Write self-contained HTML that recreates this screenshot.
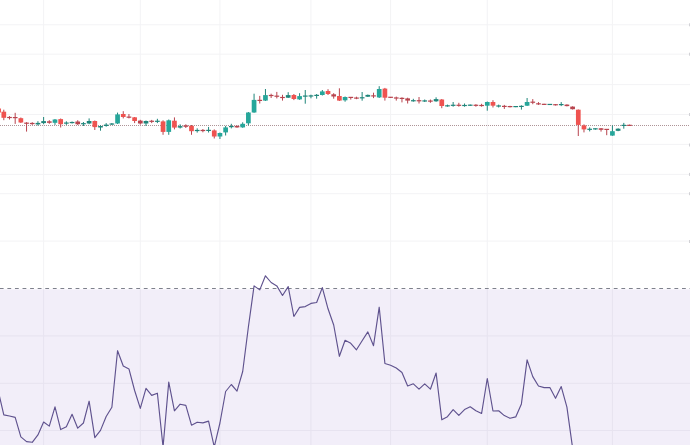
<!DOCTYPE html>
<html><head><meta charset="utf-8"><title>Chart</title>
<style>
html,body{margin:0;padding:0;background:#fff;width:690px;height:445px;overflow:hidden;font-family:"Liberation Sans",sans-serif;}
svg{display:block;}
</style></head><body>
<svg width="690" height="445" viewBox="0 0 690 445">
<rect x="0" y="0" width="690" height="445" fill="#ffffff"/>
<path d="M0 24.8H690 M0 54.2H690 M0 84.6H690 M0 114.5H690 M0 144.4H690 M0 174.4H690 M0 193.7H690 M0 241.1H690 M0 335.9H690 M0 383.3H690 M0 430.5H690 M43.62 0V445 M140.31 0V445 M219.94 0V445 M310.95 0V445 M390.58 0V445 M487.28 0V445 M612.42 0V445" stroke="#f3f3f5" stroke-width="1" fill="none"/>
<rect x="0" y="289.3" width="690" height="155.7" fill="rgba(126,87,194,0.1)"/>
<path d="M0 288.5H690" stroke="#7e818c" stroke-width="1" stroke-dasharray="3.8 3.78" stroke-dashoffset="0.2" fill="none"/>
<path d="M0 125.5H690" stroke="#ae9497" stroke-width="1" stroke-dasharray="1 1" fill="none"/>
<path d="M37.93 121.2V125.5 M43.62 117.0V124.2 M54.99 119.0V124.9 M66.37 121.3V124.9 M72.06 121.5V123.5 M83.43 122.0V126.0 M89.12 118.4V124.2 M100.50 125.3V130.7 M106.18 123.1V126.7 M111.87 123.0V125.0 M117.56 112.6V124.0 M146.00 120.5V126.0 M157.38 118.8V123.1 M168.75 119.5V134.8 M180.13 124.3V128.5 M197.19 128.3V132.6 M208.57 126.9V132.5 M219.94 132.5V139.0 M225.63 125.9V135.5 M231.32 123.8V128.4 M242.70 122.3V127.8 M248.38 112.0V125.3 M254.07 93.7V112.8 M265.45 89.0V101.0 M288.20 92.2V98.0 M299.58 93.2V99.8 M305.26 90.0V103.7 M310.95 94.7V98.3 M316.64 94.0V98.7 M322.33 90.0V95.5 M345.08 96.5V101.7 M362.14 92.0V100.7 M367.83 94.5V97.0 M379.21 86.2V98.0 M413.34 98.8V101.7 M424.71 99.5V102.0 M436.09 97.3V101.8 M447.46 104.6V106.7 M453.15 102.0V106.7 M464.53 103.5V106.7 M470.22 104.5V106.0 M487.28 101.5V110.7 M498.66 104.6V107.5 M515.72 106.0V107.2 M521.41 105.3V109.6 M527.10 98.0V106.0 M549.85 104.0V105.0 M561.22 102.1V106.1 M589.66 127.4V131.4 M595.35 128.3V129.8 M612.42 125.4V135.8 M618.10 128.3V131.2 M623.79 122.9V128.7" stroke="#1f857a" stroke-width="1" fill="none"/>
<g fill="#26a69a"><rect x="52.64" y="119.50" width="4.7" height="3.30"/><rect x="115.21" y="114.40" width="4.7" height="9.10"/><rect x="166.40" y="120.30" width="4.7" height="11.60"/><rect x="217.59" y="133.00" width="4.7" height="3.50"/><rect x="223.28" y="127.40" width="4.7" height="5.00"/><rect x="240.35" y="123.80" width="4.7" height="3.60"/><rect x="246.03" y="112.50" width="4.7" height="10.80"/><rect x="251.72" y="99.90" width="4.7" height="12.60"/><rect x="263.10" y="95.10" width="4.7" height="5.50"/><rect x="297.23" y="96.10" width="4.7" height="3.30"/><rect x="319.98" y="91.40" width="4.7" height="3.60"/><rect x="342.73" y="97.00" width="4.7" height="3.30"/><rect x="376.86" y="89.00" width="4.7" height="8.40"/><rect x="484.93" y="102.00" width="4.7" height="3.70"/><rect x="524.75" y="102.00" width="4.7" height="3.70"/><rect x="610.07" y="131.20" width="4.7" height="4.40"/></g>
<g fill="#1f857a"><rect x="35.58" y="122.90" width="4.7" height="1.50"/><rect x="41.27" y="121.10" width="4.7" height="2.00"/><rect x="64.02" y="122.50" width="4.7" height="1.20"/><rect x="69.71" y="121.95" width="4.7" height="1.20"/><rect x="81.08" y="123.10" width="4.7" height="1.20"/><rect x="86.77" y="121.00" width="4.7" height="2.50"/><rect x="98.15" y="126.00" width="4.7" height="1.50"/><rect x="103.83" y="124.60" width="4.7" height="1.40"/><rect x="109.52" y="123.45" width="4.7" height="1.20"/><rect x="143.65" y="121.00" width="4.7" height="2.50"/><rect x="155.03" y="120.70" width="4.7" height="1.20"/><rect x="177.78" y="126.10" width="4.7" height="1.50"/><rect x="194.84" y="129.90" width="4.7" height="1.20"/><rect x="206.22" y="129.80" width="4.7" height="1.20"/><rect x="228.97" y="126.00" width="4.7" height="1.20"/><rect x="285.85" y="95.10" width="4.7" height="2.60"/><rect x="302.91" y="95.50" width="4.7" height="1.20"/><rect x="308.60" y="95.35" width="4.7" height="1.20"/><rect x="314.29" y="94.80" width="4.7" height="1.20"/><rect x="359.79" y="97.20" width="4.7" height="1.20"/><rect x="365.48" y="94.90" width="4.7" height="1.80"/><rect x="410.99" y="100.15" width="4.7" height="1.20"/><rect x="422.36" y="100.35" width="4.7" height="1.20"/><rect x="433.74" y="99.10" width="4.7" height="2.20"/><rect x="445.11" y="105.25" width="4.7" height="1.20"/><rect x="450.80" y="104.70" width="4.7" height="1.20"/><rect x="462.18" y="104.90" width="4.7" height="1.20"/><rect x="467.87" y="104.60" width="4.7" height="1.20"/><rect x="496.31" y="105.40" width="4.7" height="1.20"/><rect x="513.37" y="106.00" width="4.7" height="1.20"/><rect x="519.06" y="105.80" width="4.7" height="1.20"/><rect x="547.50" y="103.85" width="4.7" height="1.20"/><rect x="558.87" y="104.00" width="4.7" height="1.20"/><rect x="587.31" y="128.70" width="4.7" height="1.20"/><rect x="593.00" y="128.25" width="4.7" height="1.20"/><rect x="615.75" y="128.70" width="4.7" height="2.10"/><rect x="621.44" y="124.80" width="4.7" height="1.20"/></g>
<path d="M-1.40 107.5V113.0 M3.80 109.7V120.2 M9.49 116.1V119.5 M15.18 112.8V123.9 M20.86 117.5V123.0 M26.55 122.2V131.6 M32.24 122.2V124.9 M49.30 120.2V123.8 M60.68 118.5V127.5 M77.74 120.2V125.0 M94.81 120.5V130.0 M123.25 111.2V118.4 M128.94 114.0V118.4 M134.62 117.0V123.1 M140.31 119.8V124.6 M151.69 119.9V123.1 M163.06 120.3V134.8 M174.44 117.4V129.4 M185.82 124.3V128.0 M191.50 125.0V134.8 M202.88 129.0V132.3 M214.26 129.4V138.5 M237.01 125.5V127.8 M259.76 95.9V103.5 M271.14 93.7V98.0 M276.82 91.9V98.4 M282.51 94.8V100.6 M293.89 94.0V100.1 M328.02 89.2V95.0 M333.70 93.2V98.7 M339.39 88.3V101.0 M350.77 97.0V99.6 M356.46 96.7V99.2 M373.52 92.7V98.1 M384.90 87.9V100.6 M390.58 97.0V98.0 M396.27 96.6V100.6 M401.96 97.3V102.4 M407.65 97.7V103.5 M419.02 97.0V103.5 M430.40 99.5V102.8 M441.78 99.0V108.2 M458.84 102.8V106.7 M475.90 104.2V106.7 M481.59 103.8V106.7 M492.97 100.2V107.5 M504.34 104.9V108.9 M510.03 105.8V107.4 M532.78 99.1V104.2 M538.47 102.1V104.9 M544.16 103.8V105.0 M555.54 104.0V105.5 M566.91 104.3V106.4 M572.60 106.3V109.5 M578.29 109.5V136.0 M583.98 124.4V132.4 M601.04 128.0V131.6 M606.73 129.0V135.2 M629.48 124.6V126.0" stroke="#b8444e" stroke-width="1" fill="none"/>
<g fill="#ef5350"><rect x="-3.75" y="108.50" width="4.7" height="4.00"/><rect x="1.45" y="111.70" width="4.7" height="6.10"/><rect x="18.51" y="118.20" width="4.7" height="4.30"/><rect x="58.33" y="119.10" width="4.7" height="5.10"/><rect x="92.46" y="121.00" width="4.7" height="6.10"/><rect x="120.90" y="114.00" width="4.7" height="3.00"/><rect x="132.27" y="117.30" width="4.7" height="3.70"/><rect x="160.71" y="121.40" width="4.7" height="10.50"/><rect x="172.09" y="120.70" width="4.7" height="6.90"/><rect x="189.15" y="125.80" width="4.7" height="5.40"/><rect x="211.91" y="130.40" width="4.7" height="6.10"/><rect x="291.54" y="95.00" width="4.7" height="4.00"/><rect x="325.67" y="91.00" width="4.7" height="3.00"/><rect x="337.04" y="96.00" width="4.7" height="4.60"/><rect x="382.55" y="88.60" width="4.7" height="9.10"/><rect x="439.43" y="99.50" width="4.7" height="6.50"/><rect x="490.62" y="102.00" width="4.7" height="3.70"/><rect x="575.94" y="109.70" width="4.7" height="15.20"/><rect x="581.63" y="125.40" width="4.7" height="4.00"/></g>
<g fill="#b8444e"><rect x="7.14" y="116.90" width="4.7" height="1.20"/><rect x="12.83" y="117.00" width="4.7" height="1.20"/><rect x="24.20" y="122.60" width="4.7" height="1.20"/><rect x="29.89" y="122.90" width="4.7" height="1.20"/><rect x="46.95" y="121.30" width="4.7" height="1.50"/><rect x="75.39" y="121.50" width="4.7" height="2.70"/><rect x="126.59" y="116.55" width="4.7" height="1.20"/><rect x="137.96" y="120.60" width="4.7" height="2.90"/><rect x="149.34" y="120.70" width="4.7" height="1.20"/><rect x="183.47" y="125.40" width="4.7" height="1.40"/><rect x="200.53" y="129.90" width="4.7" height="1.20"/><rect x="234.66" y="125.90" width="4.7" height="1.50"/><rect x="257.41" y="99.80" width="4.7" height="1.20"/><rect x="268.79" y="94.90" width="4.7" height="1.20"/><rect x="274.47" y="95.60" width="4.7" height="1.20"/><rect x="280.16" y="96.90" width="4.7" height="1.20"/><rect x="331.35" y="94.30" width="4.7" height="2.20"/><rect x="348.42" y="96.80" width="4.7" height="1.20"/><rect x="354.11" y="97.50" width="4.7" height="1.20"/><rect x="371.17" y="95.30" width="4.7" height="1.20"/><rect x="388.23" y="96.70" width="4.7" height="1.20"/><rect x="393.92" y="97.40" width="4.7" height="1.20"/><rect x="399.61" y="97.80" width="4.7" height="1.20"/><rect x="405.30" y="98.40" width="4.7" height="2.20"/><rect x="416.67" y="100.15" width="4.7" height="1.20"/><rect x="428.05" y="100.50" width="4.7" height="1.20"/><rect x="456.49" y="104.70" width="4.7" height="1.20"/><rect x="473.55" y="104.70" width="4.7" height="1.20"/><rect x="479.24" y="104.90" width="4.7" height="1.20"/><rect x="501.99" y="105.80" width="4.7" height="1.20"/><rect x="507.68" y="106.00" width="4.7" height="1.20"/><rect x="530.43" y="101.60" width="4.7" height="1.20"/><rect x="536.12" y="103.25" width="4.7" height="1.20"/><rect x="541.81" y="103.75" width="4.7" height="1.20"/><rect x="553.19" y="104.15" width="4.7" height="1.20"/><rect x="564.56" y="104.60" width="4.7" height="1.50"/><rect x="570.25" y="106.60" width="4.7" height="2.60"/><rect x="598.69" y="128.30" width="4.7" height="1.50"/><rect x="604.38" y="128.80" width="4.7" height="1.20"/><rect x="627.13" y="124.75" width="4.7" height="1.20"/></g>
<path d="M689.5 23.3V26.3 M689.5 52.7V55.7 M689.5 113.0V116.0 M689.5 143.5V146.5 M689.5 172.9V175.9 M689.5 192.2V195.2 M689.5 240.0V243.0" stroke="#d2d2d6" stroke-width="1" fill="none"/>
<polyline points="-1.89,390.3 3.80,414.9 9.49,416.0 15.18,417.4 20.86,436.9 26.55,441.6 32.24,442.3 37.93,434.9 43.62,422.0 49.30,426.1 54.99,406.8 60.68,429.6 66.37,426.7 72.06,414.3 77.74,428.2 83.43,423.0 89.12,401.2 94.81,437.7 100.50,430.4 106.18,416.5 111.87,407.3 117.56,350.7 123.25,366.0 128.94,368.9 134.62,390.5 140.31,408.4 146.00,388.3 151.69,395.4 157.38,393.2 163.06,447.0 168.75,382.1 174.44,410.8 180.13,404.2 185.82,405.4 191.50,425.2 197.19,422.2 202.88,422.9 208.57,421.1 214.26,447.0 219.94,423.0 225.63,391.5 231.32,384.5 237.01,391.1 242.70,371.5 248.38,327.0 254.07,285.9 259.76,289.9 265.45,275.8 271.14,282.5 276.82,285.9 282.51,295.5 288.20,286.6 293.89,316.5 299.58,307.4 305.26,306.6 310.95,303.4 316.64,302.5 322.33,287.6 328.02,308.8 333.70,325.0 339.39,356.3 345.08,340.3 350.77,343.3 356.46,349.8 362.14,340.8 367.83,331.9 373.52,345.7 379.21,307.2 384.90,363.5 390.58,365.2 396.27,368.0 401.96,372.5 407.65,386.0 413.34,383.8 419.02,389.2 424.71,383.8 430.40,389.2 436.09,373.0 441.78,419.8 447.46,416.7 453.15,409.6 458.84,415.4 464.53,409.6 470.22,406.8 475.90,410.7 481.59,413.5 487.28,378.5 492.97,411.0 498.66,410.8 504.34,415.6 510.03,418.3 515.72,416.9 521.41,403.9 527.10,359.9 532.78,376.6 538.47,386.0 544.16,387.6 549.85,387.5 555.54,398.3 561.22,386.6 566.91,407.2 572.60,448.0 578.29,480.0" stroke="#5f528e" stroke-width="1.15" fill="none" stroke-linejoin="round"/>
</svg>
</body></html>
